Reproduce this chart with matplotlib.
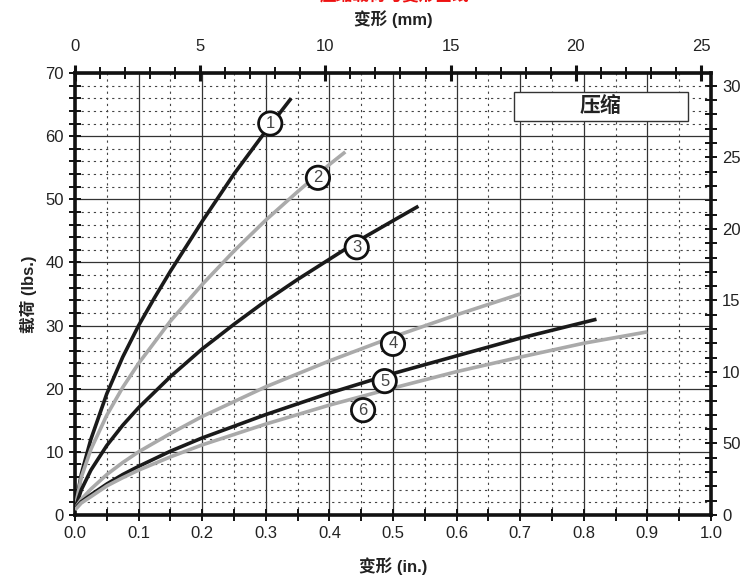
import matplotlib
matplotlib.use("Agg")
import matplotlib.pyplot as plt
from matplotlib.ticker import MultipleLocator

plt.rcParams['font.family'] = ['Liberation Sans', 'Noto Sans CJK SC', 'DejaVu Sans']

# curves: deflection (in.) vs load (lbs.)
x1 = [0.0, 0.01, 0.025, 0.05, 0.075, 0.1, 0.125, 0.15, 0.2, 0.25, 0.3, 0.34]
y1 = [1.0, 6.5, 12.0, 19.2, 25.0, 30.0, 34.4, 38.6, 46.5, 54.0, 60.8, 66.0]
x2 = [0.0, 0.01, 0.025, 0.05, 0.075, 0.1, 0.15, 0.2, 0.25, 0.3, 0.35, 0.4, 0.425]
y2 = [1.0, 6.0, 10.4, 15.8, 20.2, 24.0, 30.7, 36.5, 41.8, 46.7, 51.2, 55.5, 57.5]
x3 = [0.0, 0.01, 0.025, 0.05, 0.075, 0.1, 0.15, 0.2, 0.25, 0.3, 0.35, 0.4, 0.45, 0.5, 0.54]
y3 = [1.0, 4.0, 7.1, 11.0, 14.2, 17.0, 21.9, 26.3, 30.2, 33.9, 37.3, 40.5, 43.7, 46.6, 48.9]
x4 = [0.0, 0.01, 0.025, 0.05, 0.075, 0.1, 0.15, 0.2, 0.3, 0.4, 0.5, 0.6, 0.7]
y4 = [1.0, 2.5, 4.1, 6.4, 8.3, 10.0, 12.9, 15.6, 20.3, 24.4, 28.2, 31.7, 35.0]
x5 = [0.0, 0.01, 0.025, 0.05, 0.075, 0.1, 0.15, 0.2, 0.3, 0.4, 0.5, 0.6, 0.7, 0.82]
y5 = [1.0, 2.1, 3.2, 4.9, 6.4, 7.7, 10.1, 12.2, 15.9, 19.3, 22.4, 25.2, 28.0, 31.0]
x6 = [0.0, 0.01, 0.025, 0.05, 0.075, 0.1, 0.15, 0.2, 0.3, 0.4, 0.5, 0.6, 0.7, 0.8, 0.9]
y6 = [0.8, 1.9, 2.9, 4.6, 5.9, 7.1, 9.2, 11.1, 14.4, 17.4, 20.1, 22.7, 25.0, 27.2, 29.0]

curve_colors = ['#1a1a1a', '#aaaaaa', '#1a1a1a', '#aaaaaa', '#1a1a1a', '#aaaaaa']
tags = ['1', '2', '3', '4', '5', '6']
tag_x = [0.307, 0.382, 0.443, 0.500, 0.487, 0.453]
tag_y = [62.0, 53.4, 42.4, 27.1, 21.2, 16.6]

mm_ticks = [0, 5, 10, 15, 20, 25]
kg_ticks = [0, 5, 10, 15, 20, 25, 30]
kg_labels = ['0', '50', '10', '15', '20', '25', '30']

fig = plt.figure(figsize=(7.44, 5.77), dpi=100)
ax = fig.add_axes([0.1008, 0.1075, 0.8548, 0.766])

ax.set_xlim(0, 1.0)
ax.set_ylim(0, 70)

# grid: solid at majors, dotted at minors
ax.xaxis.set_major_locator(MultipleLocator(0.1))
ax.xaxis.set_minor_locator(MultipleLocator(0.05))
ax.yaxis.set_major_locator(MultipleLocator(10))
ax.yaxis.set_minor_locator(MultipleLocator(2))
ax.grid(which='major', color='#333333', linewidth=0.9, linestyle='-')
ax.grid(which='minor', color='#444444', linewidth=0.8, linestyle=(0, (2, 3.5)))
ax.set_axisbelow(True)

xs = [x1, x2, x3, x4, x5, x6]
ys = [y1, y2, y3, y4, y5, y6]
for xv, yv, c in zip(xs, ys, curve_colors):
    ax.plot(xv, yv, color=c, linewidth=2.6, solid_capstyle='butt', solid_joinstyle='round', zorder=3)

for t, tx, ty in zip(tags, tag_x, tag_y):
    ax.text(tx, ty, t, ha='center', va='center', fontsize=12, color='#444444', zorder=5,
            bbox=dict(boxstyle='circle,pad=0.25', fc='white', ec='#111111', lw=2.0))

box = plt.Rectangle((0.69, 62.4), 0.274, 4.6, fc='white', ec='#333333', lw=1.0, zorder=4)
ax.add_patch(box)
ax.text(0.827, 64.7, '压缩', ha='center', va='center', fontsize=15, fontweight='bold',
        color='#222222', zorder=5)

for s in ax.spines.values():
    s.set_linewidth(2.6)
    s.set_color('#111111')

ax.tick_params(which='both', direction='inout', length=9, width=1.4, labelsize=12,
               colors='#111111', labelcolor='#222222')
ax.xaxis.set_major_formatter(plt.FuncFormatter(lambda v, p: f'{v:.1f}'))

ax.set_xlabel('变形 (in.)', fontsize=12, fontweight='bold', color='#222222', labelpad=12)
ax.set_ylabel('载荷 (lbs.)', fontsize=12, fontweight='bold', color='#222222', labelpad=6)

top = ax.secondary_xaxis('top', functions=(lambda v: v * 25.4, lambda v: v / 25.4))
top.set_xticks(mm_ticks)
top.xaxis.set_minor_locator(MultipleLocator(1))
top.tick_params(which='both', direction='inout', length=9, width=1.4, labelsize=12,
                colors='#111111', labelcolor='#222222', pad=8)
top.tick_params(which='major', width=2.2, length=11)
top.set_xlabel('变形 (mm)', fontsize=12, fontweight='bold', color='#222222', labelpad=10)

k = 30.9 / 70.0
right = ax.secondary_yaxis('right', functions=(lambda v: v * k, lambda v: v / k))
right.set_yticks(kg_ticks, labels=kg_labels)
right.yaxis.set_minor_locator(MultipleLocator(1))
right.tick_params(which='both', direction='inout', length=9, width=1.4, labelsize=12,
                  colors='#111111', labelcolor='#222222')

# red heading, cut off by the top edge as in the source image
fig.text(0.53, 0.9975, '压缩载荷与变形曲线', color='#ee1111', fontsize=12, fontweight='bold',
         ha='center', va='baseline')

fig.savefig('out.png', dpi=100)
